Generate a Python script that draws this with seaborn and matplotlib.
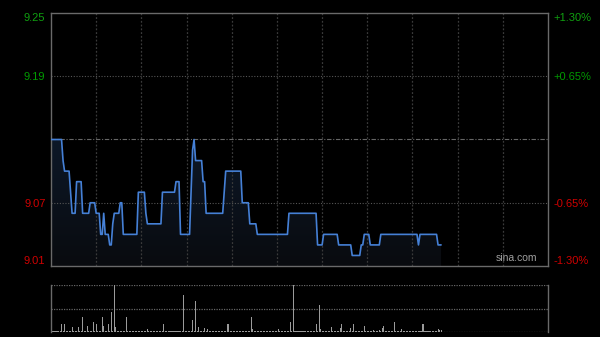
import numpy as np
import pandas as pd
import matplotlib
matplotlib.use("Agg")
import matplotlib.pyplot as plt
import seaborn as sns
from matplotlib.colors import LinearSegmentedColormap

prev_close = 9.13
price = [
    9.13, 9.13, 9.13, 9.13, 9.13, 9.13, 9.13, 9.13, 9.11, 9.10,
    9.10, 9.10, 9.10, 9.08, 9.06, 9.06, 9.06, 9.09, 9.09, 9.09,
    9.09, 9.06, 9.06, 9.06, 9.06, 9.06, 9.07, 9.07, 9.07, 9.07,
    9.06, 9.06, 9.06, 9.04, 9.04, 9.06, 9.04, 9.04, 9.04, 9.03,
    9.03, 9.05, 9.06, 9.06, 9.06, 9.06, 9.07, 9.07, 9.04, 9.04,
    9.04, 9.04, 9.04, 9.04, 9.04, 9.04, 9.04, 9.04, 9.08, 9.08,
    9.08, 9.08, 9.08, 9.06, 9.05, 9.05, 9.05, 9.05, 9.05, 9.05,
    9.05, 9.05, 9.05, 9.05, 9.08, 9.08, 9.08, 9.08, 9.08, 9.08,
    9.08, 9.08, 9.08, 9.09, 9.09, 9.09, 9.04, 9.04, 9.04, 9.04,
    9.04, 9.04, 9.04, 9.08, 9.12, 9.13, 9.11, 9.11, 9.11, 9.11,
    9.11, 9.09, 9.09, 9.06, 9.06, 9.06, 9.06, 9.06, 9.06, 9.06,
    9.06, 9.06, 9.06, 9.06, 9.06, 9.08, 9.10, 9.10, 9.10, 9.10,
    9.10, 9.10, 9.10, 9.10, 9.10, 9.10, 9.10, 9.07, 9.07, 9.07,
    9.07, 9.07, 9.05, 9.05, 9.05, 9.05, 9.05, 9.04, 9.04, 9.04,
    9.04, 9.04, 9.04, 9.04, 9.04, 9.04, 9.04, 9.04, 9.04, 9.04,
    9.04, 9.04, 9.04, 9.04, 9.04, 9.04, 9.04, 9.04, 9.06, 9.06,
    9.06, 9.06, 9.06, 9.06, 9.06, 9.06, 9.06, 9.06, 9.06, 9.06,
    9.06, 9.06, 9.06, 9.06, 9.06, 9.06, 9.06, 9.03, 9.03, 9.03,
    9.03, 9.04, 9.04, 9.04, 9.04, 9.04, 9.04, 9.04, 9.04, 9.04,
    9.04, 9.03, 9.03, 9.03, 9.03, 9.03, 9.03, 9.03, 9.03, 9.03,
    9.02, 9.02, 9.02, 9.02, 9.02, 9.02, 9.03, 9.03, 9.04, 9.04,
    9.04, 9.04, 9.03, 9.03, 9.03, 9.03, 9.03, 9.03, 9.03, 9.04,
    9.04, 9.04, 9.04, 9.04, 9.04, 9.04, 9.04, 9.04, 9.04, 9.04,
    9.04, 9.04, 9.04, 9.04, 9.04, 9.04, 9.04, 9.04, 9.04, 9.04,
    9.04, 9.04, 9.04, 9.04, 9.03, 9.04, 9.04, 9.04, 9.04, 9.04,
    9.04, 9.04, 9.04, 9.04, 9.04, 9.04, 9.04, 9.03, 9.03, 9.03,
]
volume = [
    2, 1, 1, 1, 1, 1, 1, 8, 1, 8,
    1, 1, 1, 1, 5, 1, 1, 1, 5, 1,
    1, 15, 1, 1, 6, 1, 1, 1, 10, 1,
    8, 1, 1, 1, 15, 6, 1, 1, 8, 1,
    20, 1, 47, 5, 1, 1, 1, 1, 1, 1,
    15, 1, 1, 1, 1, 1, 1, 1, 1, 1,
    1, 1, 1, 1, 3, 1, 1, 1, 1, 1,
    1, 1, 1, 1, 1, 8, 1, 1, 1, 1,
    1, 1, 1, 1, 1, 1, 1, 1, 37, 1,
    1, 1, 1, 1, 12, 1, 31, 1, 5, 1,
    1, 1, 4.5, 1, 3, 1, 1, 1, 1, 1,
    1, 1, 1, 1, 1, 1, 1, 8, 8, 1,
    1, 1, 1, 1, 1, 1, 1, 1, 1, 1,
    1, 1, 1, 15, 3, 1, 1, 1, 1, 1,
    1, 1, 1, 1, 1, 1, 1, 1, 1, 1,
    1, 3, 1, 1, 1, 1, 1, 1, 1, 10,
    1, 47, 1, 1, 1, 1, 1, 1, 1, 1,
    1, 1, 1, 1, 1, 1, 8, 1, 27, 3,
    1, 1, 1, 1, 1, 1, 5, 1, 1, 1,
    1, 1, 4, 8, 1, 1, 1, 1, 1, 4,
    1, 8, 1, 1, 1, 1, 1, 1, 6, 1,
    1, 1, 1, 1, 2, 1, 1, 1, 2, 1,
    4, 6, 1, 1, 1, 1, 1, 1, 10, 1,
    1, 1, 1, 3, 1, 1, 1, 1, 1, 1,
    1, 1, 1, 1, 1, 1, 1, 8, 1, 1,
    1, 1, 1, 1, 1, 1, 1, 3, 2, 2,
]
left_ticks = [9.01, 9.07, 9.19, 9.25]
left_labels = ["9.01", "9.07", "9.19", "9.25"]
right_labels = ["-1.30%", "-0.65%", "+0.65%", "+1.30%"]
n_minutes = 330

sns.set_style("dark")
plt.rcParams['font.family'] = ['Liberation Sans', 'DejaVu Sans']

df = pd.DataFrame({"minute": np.arange(len(price)), "price": price, "volume": volume})

fig = plt.figure(figsize=(6, 3.37), dpi=100, facecolor="black")
ax = fig.add_axes([51/600, 1-266/337, 497/600, 253/337])
axv = fig.add_axes([51/600, 1-332/337, 497/600, 47/337])

ymin, ymax = 9.01, 9.25
for a in (ax, axv):
    a.set_facecolor("black")
    a.grid(False)

# gradient fill under the line
grad = LinearSegmentedColormap.from_list("g", ["#090b0f", "#0d1828"])
img = ax.imshow(np.linspace(0, 1, 100).reshape(-1, 1), cmap=grad, aspect="auto",
                extent=[0, n_minutes, ymin, max(price)], origin="lower", zorder=1)
poly = ax.fill_between(df["minute"], df["price"], ymin, color="none", lw=0)
clip = poly.get_paths()[0]
img.set_clip_path(clip, transform=ax.transData)

sns.lineplot(data=df, x="minute", y="price", ax=ax, color="#4580d6", lw=1.2, zorder=3)

ax.set_xlim(0, n_minutes)
ax.set_ylim(ymin, ymax)
for x in range(30, n_minutes, 30):
    ax.axvline(x, color="#3a3a3a", lw=0.9, ls=(0, (1.5, 1.5)), zorder=2)
for y in (9.07, 9.19):
    ax.axhline(y, color="#555555", lw=0.8, ls=(0, (1, 1.5)), zorder=2)
ax.axhline(prev_close, color="#666666", lw=0.8, ls=(0, (4, 1.5, 1, 1.5)), zorder=2)

for s in ax.spines.values():
    s.set_color("#6a6a6a")
    s.set_linewidth(1)
    s.set_visible(True)

ax.set_xticks([])
ax.set_xlabel("")
ax.set_ylabel("")
ax.set_yticks(left_ticks)
ax.set_yticklabels(left_labels)
ax.tick_params(axis="y", length=0, pad=4, labelsize=8)
cols = ["#d00000", "#d00000", "#009a00", "#10a010"]
for lab, c in zip(ax.get_yticklabels(), cols):
    lab.set_color(c)
labs = ax.get_yticklabels()
labs[0].set_va("bottom")
labs[-1].set_va("top")

axr = ax.twinx()
axr.set_ylim(ymin, ymax)
axr.set_yticks(left_ticks)
axr.set_yticklabels(right_labels)
axr.tick_params(axis="y", length=0, pad=4, labelsize=8)
for lab, c in zip(axr.get_yticklabels(), cols):
    lab.set_color(c)
rl = axr.get_yticklabels()
rl[0].set_va("bottom")
rl[-1].set_va("top")
for s in axr.spines.values():
    s.set_visible(False)
axr.grid(False)

ax.text(0.978, 0.012, "sina.com", transform=ax.transAxes, ha="right", va="bottom",
        color="#a0a0a0", fontsize=7.5, zorder=5)

# volume panel
axv.bar(df["minute"], df["volume"], width=0.7, color="#9a9a9a", lw=0)
axv.set_xlim(0, n_minutes)
axv.set_ylim(0, 47)
axv.set_xticks([])
axv.set_yticks([])
axv.set_xlabel("")
axv.set_ylabel("")
for side in ("left", "right"):
    axv.spines[side].set_color("#6a6a6a")
    axv.spines[side].set_linewidth(1)
for side in ("top", "bottom"):
    axv.spines[side].set_visible(False)
for y in (0, 23.5, 47):
    axv.axhline(y, color="#666666", lw=0.9, ls=(0, (1, 1)), zorder=0)

fig.savefig("out.png", dpi=100, facecolor="black")
